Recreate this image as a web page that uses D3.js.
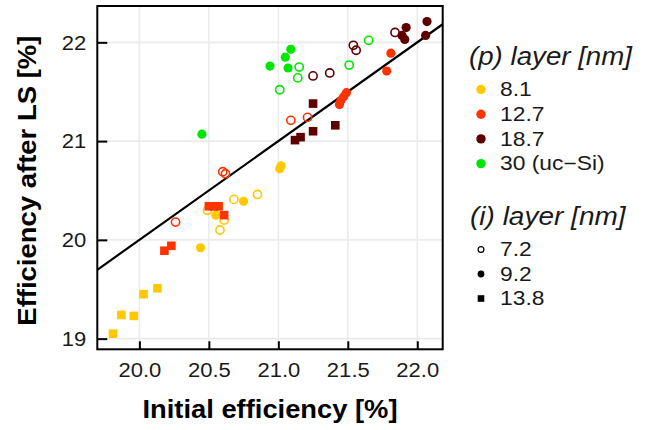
<!DOCTYPE html>
<html><head><meta charset="utf-8">
<script src="https://cdn.jsdelivr.net/npm/d3@7"></script>
<style>body{margin:0;background:#fff}svg{display:block}</style>
</head><body>
<script>
// ---- data ----
const initialEff = [
  19.81,19.87,19.96,20.03,20.13, 20.49,20.61,20.58,20.68,20.85, 20.55,20.75,20.44,21.01,21.02,
  20.18,20.23,20.50,20.54,20.57,20.61, 20.60,20.62,20.26,21.09,21.21, 21.44,21.45,21.47,21.49,21.81,21.78,
  21.25,21.12,21.16,21.25,21.41, 21.25,21.37,21.54,21.56,21.84, 21.92,21.89,21.91,22.07,22.06,
  20.45,21.09,21.05,20.94,21.07, 21.15,21.14,21.01,21.51,21.65
];
const afterLS = [
  19.05,19.24,19.23,19.45,19.51, 20.30,20.20,20.10,20.41,20.46, 20.25,20.39,19.92,20.72,20.75,
  19.89,19.94,20.34,20.34,20.34,20.25, 20.69,20.67,20.18,21.21,21.24, 21.37,21.41,21.45,21.49,21.89,21.71,
  21.38,21.01,21.04,21.10,21.16, 21.66,21.69,21.97,21.92,22.10, 22.15,22.07,22.03,22.21,22.07,
  21.07,21.93,21.85,21.76,21.74, 21.75,21.64,21.52,21.77,22.02
];
const pLayer = [
  "8.1","8.1","8.1","8.1","8.1","8.1","8.1","8.1","8.1","8.1","8.1","8.1","8.1","8.1","8.1",
  "12.7","12.7","12.7","12.7","12.7","12.7","12.7","12.7","12.7","12.7","12.7","12.7","12.7","12.7","12.7","12.7","12.7",
  "18.7","18.7","18.7","18.7","18.7","18.7","18.7","18.7","18.7","18.7","18.7","18.7","18.7","18.7","18.7",
  "30","30","30","30","30","30","30","30","30","30"
];
const iLayer = [
  "13.8","13.8","13.8","13.8","13.8","7.2","7.2","7.2","7.2","7.2","9.2","9.2","9.2","9.2","9.2",
  "13.8","13.8","13.8","13.8","13.8","13.8","7.2","7.2","7.2","7.2","7.2","9.2","9.2","9.2","9.2","9.2","9.2",
  "13.8","13.8","13.8","13.8","13.8","7.2","7.2","7.2","7.2","7.2","9.2","9.2","9.2","9.2","9.2",
  "9.2","9.2","9.2","9.2","9.2","7.2","7.2","7.2","7.2","7.2"
];
const pLevels = ["8.1","12.7","18.7","30"];
const pLabels = ["8.1","12.7","18.7","30 (uc\u2212Si)"];
const pColors = ["#FFC800","#FF3300","#5E0000","#00E600"];
const iLevels = ["7.2","9.2","13.8"];
const iLabels = ["7.2","9.2","13.8"];
const xTicks = [20.0,20.5,21.0,21.5,22.0];
const yTicks = [19,20,21,22];

(function(){
const W = 648, H = 430;
const svg = d3.select("body").append("svg").attr("width",W).attr("height",H);
const pL = 97.3, pR = 442.7, pT = 6, pB = 349.3;

function expand(ext){const r=ext[1]-ext[0];return [ext[0]-0.05*r, ext[1]+0.05*r];}
const x = d3.scaleLinear().domain(expand(d3.extent(initialEff))).range([pL,pR]);
const y = d3.scaleLinear().domain(expand(d3.extent(afterLS))).range([pB,pT]);
const color = d3.scaleOrdinal().domain(pLevels).range(pColors);

const FONT = "Liberation Sans, Arial, sans-serif";
// horizontally widen text glyphs (reference font renders wider)
function widen(sel, f){
  sel.each(function(){
    const w = this.getComputedTextLength();
    d3.select(this).attr("textLength", w*f).attr("lengthAdjust","spacingAndGlyphs");
  });
}

// grid
const g = svg.append("g");
g.selectAll(".vg").data(xTicks).join("line")
  .attr("x1",d=>x(d)).attr("x2",d=>x(d)).attr("y1",pT).attr("y2",pB)
  .attr("stroke","#ebebeb").attr("stroke-width",1.6);
g.selectAll(".hg").data(yTicks).join("line")
  .attr("y1",d=>y(d)).attr("y2",d=>y(d)).attr("x1",pL).attr("x2",pR)
  .attr("stroke","#ebebeb").attr("stroke-width",1.6);

// identity line
const xd = x.domain();
svg.append("line").attr("x1",x(xd[0])).attr("y1",y(xd[0])).attr("x2",x(xd[1])).attr("y2",y(xd[1]))
  .attr("stroke","#000").attr("stroke-width",2.2);

// points
const data = initialEff.map((v,i)=>({x:v,y:afterLS[i],p:pLayer[i],il:iLayer[i]}));
const pts = svg.append("g");
data.forEach(d=>{
  const cx=x(d.x), cy=y(d.y), c=color(d.p);
  if(d.il==="13.8"){
    pts.append("rect").attr("x",cx-4.3).attr("y",cy-4.3).attr("width",8.6).attr("height",8.6).attr("fill",c);
  } else if(d.il==="9.2"){
    pts.append("circle").attr("cx",cx).attr("cy",cy).attr("r",4.6).attr("fill",c);
  } else {
    pts.append("circle").attr("cx",cx).attr("cy",cy).attr("r",4.1).attr("fill","none").attr("stroke",c).attr("stroke-width",1.6);
  }
});

// axes via d3 axis
const xAxis = d3.axisBottom(x).tickValues(xTicks).tickFormat(d3.format(".1f")).tickSize(-8).tickPadding(14);
const yAxis = d3.axisLeft(y).tickValues(yTicks).tickFormat(d3.format("d")).tickSize(-10).tickPadding(11);
const gx = svg.append("g").attr("transform",`translate(0,${pB})`).call(xAxis);
const gy = svg.append("g").attr("transform",`translate(${pL},0)`).call(yAxis);
[gx,gy].forEach(a=>{
  a.select(".domain").remove();
  a.selectAll(".tick line").attr("stroke","#000").attr("stroke-width",2);
  a.selectAll(".tick text").attr("font-family",FONT).attr("font-size",19.5).attr("fill","#1a1a1a");
  widen(a.selectAll(".tick text"), 1.13);
});
gy.selectAll(".tick text").attr("dy","0.35em");

// box
svg.append("rect").attr("x",pL).attr("y",pT).attr("width",pR-pL).attr("height",pB-pT)
  .attr("fill","none").attr("stroke","#000").attr("stroke-width",2);

// axis titles
svg.append("text").attr("x",(pL+pR)/2).attr("y",418).attr("text-anchor","middle")
  .attr("font-family",FONT).attr("font-weight","bold").attr("font-size",26)
  .attr("textLength",255).attr("lengthAdjust","spacingAndGlyphs").text("Initial efficiency [%]");
svg.append("text").attr("transform",`translate(36,${(pT+pB)/2+3}) rotate(-90)`).attr("text-anchor","middle")
  .attr("font-family",FONT).attr("font-weight","bold").attr("font-size",26)
  .attr("textLength",290).attr("lengthAdjust","spacingAndGlyphs").text("Efficiency after LS [%]");

// legend 1
const L1 = svg.append("g");
L1.append("text").attr("x",469).attr("y",65).attr("font-family",FONT).attr("font-style","italic")
  .attr("font-size",25).attr("fill","#1a1a1a")
  .attr("textLength",163).attr("lengthAdjust","spacingAndGlyphs").text("(p) layer [nm]");
pLevels.forEach((p,i)=>{
  const cy = 89.5 + i*24.7;
  L1.append("circle").attr("cx",481).attr("cy",cy).attr("r",4.7).attr("fill",color(p));
  const t = L1.append("text").attr("x",500).attr("y",cy).attr("dy","0.35em").attr("font-family",FONT)
    .attr("font-size",19.5).attr("fill","#1a1a1a").text(pLabels[i]);
  widen(t, 1.17);
});
// legend 2
const L2 = svg.append("g");
const t2 = L2.append("text").attr("x",470).attr("y",225).attr("font-family",FONT).attr("font-style","italic")
  .attr("font-size",25).attr("fill","#1a1a1a").text("(i) layer [nm]");
widen(t2, 1.12);
iLevels.forEach((il,i)=>{
  const cy = 249.5 + i*24.5;
  if(il==="13.8") L2.append("rect").attr("x",481-3.3).attr("y",cy-3.3).attr("width",6.6).attr("height",6.6).attr("fill","#000");
  else if(il==="9.2") L2.append("circle").attr("cx",481).attr("cy",cy).attr("r",3.4).attr("fill","#000");
  else L2.append("circle").attr("cx",481).attr("cy",cy).attr("r",2.9).attr("fill","none").attr("stroke","#000").attr("stroke-width",1.2);
  const t = L2.append("text").attr("x",500).attr("y",cy).attr("dy","0.35em").attr("font-family",FONT)
    .attr("font-size",19.5).attr("fill","#1a1a1a").text(iLabels[i]);
  widen(t, 1.17);
});
})();
</script>
</body></html>
